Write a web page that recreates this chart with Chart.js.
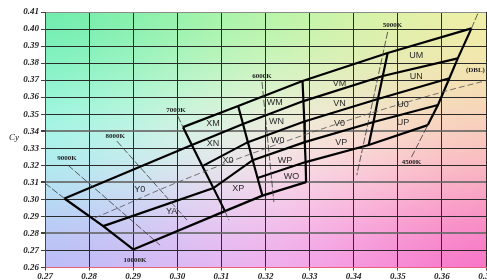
<!DOCTYPE html>
<html><head><meta charset="utf-8">
<script src="https://cdn.jsdelivr.net/npm/chart.js@4.4.1/dist/chart.umd.min.js"></script>
<style>html,body{margin:0;padding:0;background:#fff;}#wrap{width:487px;height:280px;position:relative;}</style>
</head><body><div id="wrap"><canvas id="c" width="487" height="280"></canvas></div>
<script>
// ---- tick labels ----
const xTickValues = [0.27,0.28,0.29,0.30,0.31,0.32,0.33,0.34,0.35,0.36,0.37];
const yTickValues = [0.26,0.27,0.28,0.29,0.30,0.31,0.32,0.33,0.34,0.35,0.36,0.37,0.38,0.39,0.40,0.41];
const yLightGrid = [0.28,0.31,0.34];

// ---- bin corner points (CIE x, y), rows R0..R5 top to bottom, null = no corner ----
const edgeLeft = [[0.2744,0.3005],[0.2832,0.2843],[0.2900,0.2706]];
const edgeCol1 = [[0.3013,0.3424],[0.3033,0.3319],[0.3057,0.3195],[0.3082,0.3066],null,[0.3108,0.2931]];
const edgeCol2 = [[0.3138,0.3548],[0.3149,0.3442],[0.3160,0.3336],[0.3171,0.3230],[0.3182,0.3125],[0.3193,0.3022]];
const edgeCol3 = [[0.3284,0.3695],[0.3286,0.3577],[0.3288,0.3457],[0.3289,0.3336],[0.3291,0.3219],[0.3292,0.3101]];
const edgeCol4 = [[0.3477,0.3859],[0.3466,0.3724],[0.3455,0.3589],[0.3445,0.3454],[0.3434,0.3319],null];
const edgeCol5 = [[0.3667,0.4004],[0.3636,0.3828],[0.3617,0.3711],[0.3591,0.3554],[0.3568,0.3436],null];

// ---- iso-CCT lines and black body locus ----
const iso10000 = [[0.2700,0.3095],[0.2744,0.3005]];
const iso9000 = [[0.2752,0.3201],[0.2961,0.2731]];
const iso8000 = [[0.2863,0.3342],[0.3022,0.2878]];
const iso7000a = [[0.3001,0.3489],[0.3013,0.3424]];
const iso7000b = [[0.3108,0.2931],[0.3117,0.2878]];
const iso6000 = [[0.3192,0.3689],[0.3219,0.2984]];
const iso5000 = [[0.3477,0.3983],[0.3407,0.3142]];
const iso4500a = [[0.3531,0.3248],[0.3568,0.3436]];
const iso4500b = [[0.3667,0.4004],[0.3683,0.4100]];
const locusDBL = [[0.2813,0.2891],[0.2867,0.2951],[0.2952,0.3048],[0.3064,0.3166],[0.3221,0.3318],[0.3324,0.3410],[0.3451,0.3516],[0.3608,0.3635],[0.3700,0.3697]];

// ---- labels ----
const binNames = ['Y0','YA','XM','XN','X0','XP','WM','WN','W0','WP','WO','VM','VN','V0','VP','UM','UN','U0','UP'];
const binLabelX = [0.2915,0.2987,0.3081,0.3081,0.3115,0.3138,0.3221,0.3225,0.3228,0.3244,0.3259,0.3368,0.3368,0.3368,0.3372,0.3542,0.3542,0.3512,0.3512];
const binLabelY = [0.3060,0.2927,0.3446,0.3329,0.3230,0.3064,0.3567,0.3456,0.3344,0.3230,0.3132,0.3681,0.3564,0.3446,0.3332,0.3842,0.3720,0.3554,0.3450];
const cctNames = ['10000K','9000K','8000K','7000K','6000K','5000K','4500K','(DBL)'];
const cctLabelX = [0.2904,0.2750,0.2859,0.2997,0.3192,0.3488,0.3531,0.3676];
const cctLabelY = [0.2643,0.3242,0.3371,0.3524,0.3724,0.4024,0.3219,0.3759];
const axisTitle = 'Cy';

// ---- build datasets ----
const P = p => ({x:p[0], y:p[1]});
const nn = a => a.filter(v => v !== null);
const rowLine = (i, extraStart) => {
  const pts = [];
  if (extraStart) pts.push(extraStart);
  [edgeCol1, edgeCol2, edgeCol3, edgeCol4, edgeCol5].forEach(e => { if (e[i]) pts.push(e[i]); });
  return pts;
};
const thick = [
  edgeLeft, nn(edgeCol1), nn(edgeCol2), nn(edgeCol3), nn(edgeCol4), nn(edgeCol5),
  rowLine(0), rowLine(1, edgeLeft[0]), rowLine(2), rowLine(3, edgeLeft[1]),
  [edgeCol2[4], edgeCol3[4], edgeCol4[4], edgeCol5[4]],
  [edgeLeft[2], edgeCol1[5], edgeCol2[5], edgeCol3[5]]
];
const thin = [iso10000, iso9000, iso8000, iso7000a, iso7000b, iso6000, iso5000, iso4500a, iso4500b];

const datasets = [];
thin.forEach(l => datasets.push({data:l.map(P), showLine:true, pointRadius:0, borderColor:'#3a3a3a', borderWidth:0.8, borderDash:[7,2]}));
datasets.push({data:locusDBL.map(P), showLine:true, pointRadius:0, borderColor:'#555', borderWidth:0.8, borderDash:[6,3], cubicInterpolationMode:'monotone', tension:0.4});
thick.forEach(l => datasets.push({data:l.map(P), showLine:true, pointRadius:0, borderColor:'#000', borderWidth:2.2}));

// ---- background gradient plugin ----
const bgColors = [
  [[104,236,170],[180,246,165],[242,242,165]],
  [[168,246,236],[244,238,230],[250,200,188]],
  [[186,186,248],[240,174,240],[248,110,198]]
];
const bgPlugin = {
  id:'bg',
  beforeDraw(chart){
    const {ctx, chartArea:a} = chart;
    const off = document.createElement('canvas'); off.width = 3; off.height = 3;
    const oc = off.getContext('2d'); const img = oc.createImageData(3,3);
    for (let r=0;r<3;r++) for (let c=0;c<3;c++){ const k=(r*3+c)*4; const col=bgColors[r][c]; img.data[k]=col[0];img.data[k+1]=col[1];img.data[k+2]=col[2];img.data[k+3]=255; }
    oc.putImageData(img,0,0);
    ctx.save(); ctx.imageSmoothingEnabled = true; ctx.imageSmoothingQuality='high';
    ctx.drawImage(off, 0.5, 0.5, 2, 2, a.left, a.top, a.right-a.left, a.bottom-a.top);
    ctx.restore();
  }
};
const textPlugin = {
  id:'texts',
  afterDatasetsDraw(chart){
    const {ctx, scales:{x, y}, chartArea:a} = chart;
    ctx.save();
    ctx.textAlign='center'; ctx.textBaseline='middle';
    ctx.fillStyle='#2a2a2a'; ctx.font='9px "Liberation Sans", Arial, sans-serif';
    binNames.forEach((n,i)=> ctx.fillText(n, x.getPixelForValue(binLabelX[i]), y.getPixelForValue(binLabelY[i])));
    ctx.fillStyle='#222'; ctx.font='bold 7px "Liberation Serif", serif';
    cctNames.forEach((n,i)=> ctx.fillText(n, x.getPixelForValue(cctLabelX[i]), y.getPixelForValue(cctLabelY[i])));
    ctx.font='italic 9px "Liberation Serif", serif'; ctx.fillStyle='#111';
    ctx.fillText(axisTitle, a.left-31, y.getPixelForValue(0.3365));
    ctx.restore();
  }
};

const isLight = v => yLightGrid.some(g => Math.abs(g - v) < 1e-6);
const tickFont = {family:'"Liberation Serif", serif', size:9, style:'italic', weight:'bold'};
new Chart(document.getElementById('c'), {
  type:'scatter',
  data:{datasets},
  plugins:[bgPlugin, textPlugin],
  options:{
    responsive:false, animation:false, devicePixelRatio:1,
    layout:{padding:{top:12, right:1, left:0, bottom:0}},
    plugins:{legend:{display:false}, tooltip:{enabled:false}},
    elements:{line:{tension:0}},
    scales:{
      x:{type:'linear', min:0.27, max:0.37,
        afterBuildTicks: s => { s.ticks = xTickValues.map(v=>({value:v})); },
        afterFit: s => { s.height = 12.5; s.paddingRight = 0; s.paddingLeft = 0; },
        ticks:{font:tickFont, color:'#222', padding:1, maxRotation:0, autoSkip:false, callback:v=>v.toFixed(2)},
        grid:{color:'#2a2a2a', lineWidth:1, tickLength:3, tickColor:'#444'},
        border:{color:'#e8607a', width:1}
      },
      y:{type:'linear', min:0.26, max:0.41,
        afterBuildTicks: s => { s.ticks = yTickValues.map(v=>({value:v})); },
        afterFit: s => { s.width = 45; },
        ticks:{font:tickFont, color:'#222', padding:2, autoSkip:false, callback:v=>v.toFixed(2)},
        grid:{
          color: c => (c.tick && isLight(c.tick.value)) ? 'rgba(105,105,105,0.85)' : (c.tick && Math.abs(c.tick.value-0.41)<1e-6 ? '#8a8a8a' : '#2a2a2a'),
          lineWidth: c => (c.tick && isLight(c.tick.value)) ? 2 : 1,
          tickLength:4, tickColor:'#444'},
        border:{color:'#444', width:1}
      }
    }
  }
});
</script></body></html>
